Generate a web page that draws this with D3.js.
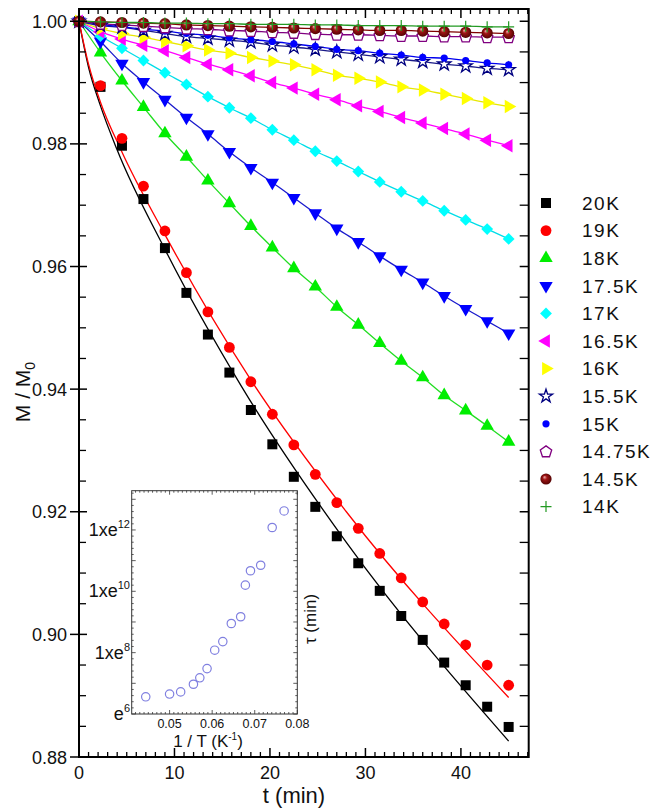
<!DOCTYPE html>
<html>
<head>
<meta charset="utf-8">
<script src="https://cdn.jsdelivr.net/npm/d3@7/dist/d3.min.js"></script>
<style>
  body { margin: 0; background: #fff; }
  svg { display: block; font-family: "Liberation Sans", Arial, sans-serif; }
</style>
</head>
<body>
<svg id="chart" width="654" height="808"></svg>
<script>
// relaxation data, M/M0 vs t (min)
const tMin = [0, 2.25, 4.5, 6.75, 9, 11.25, 13.5, 15.75, 18, 20.25, 22.5,
              24.75, 27, 29.25, 31.5, 33.75, 36, 38.25, 40.5, 42.75, 45];

const m20K   = [1, 0.9893, 0.9797, 0.9710, 0.9630, 0.9557, 0.9489, 0.9427, 0.9366, 0.9310, 0.9257, 0.9208, 0.9160, 0.9116, 0.9071, 0.9030, 0.8991, 0.8954, 0.8917, 0.8882, 0.8849];
const m19K   = [1, 0.9895, 0.9809, 0.9731, 0.9658, 0.9590, 0.9526, 0.9468, 0.9412, 0.9359, 0.9309, 0.9261, 0.9215, 0.9173, 0.9132, 0.9092, 0.9053, 0.9017, 0.8983, 0.8950, 0.8917];
const m18K   = [1, 0.9949, 0.9903, 0.9860, 0.9817, 0.9779, 0.9740, 0.9703, 0.9666, 0.9631, 0.9597, 0.9567, 0.9534, 0.9505, 0.9475, 0.9446, 0.9419, 0.9390, 0.9365, 0.9340, 0.9314];
const m17_5K = [1, 0.9967, 0.9931, 0.9901, 0.9872, 0.9843, 0.9816, 0.9787, 0.9761, 0.9737, 0.9712, 0.9687, 0.9662, 0.9640, 0.9617, 0.9595, 0.9574, 0.9552, 0.9531, 0.9511, 0.9491];
const m17K   = [1, 0.9976, 0.9956, 0.9936, 0.9916, 0.9897, 0.9877, 0.9859, 0.9842, 0.9823, 0.9806, 0.9788, 0.9772, 0.9755, 0.9738, 0.9722, 0.9707, 0.9691, 0.9676, 0.9661, 0.9645];
const m16_5K = [1, 0.9983, 0.9971, 0.9961, 0.9952, 0.9941, 0.9930, 0.9921, 0.9911, 0.9900, 0.9891, 0.9881, 0.9872, 0.9862, 0.9853, 0.9843, 0.9834, 0.9825, 0.9816, 0.9806, 0.9797];
const m16K   = [1, 0.9988, 0.9980, 0.9974, 0.9967, 0.9960, 0.9953, 0.9948, 0.9941, 0.9935, 0.9929, 0.9921, 0.9912, 0.9907, 0.9901, 0.9893, 0.9888, 0.9881, 0.9874, 0.9867, 0.9861];
const m15_5K = [1, 0.9993, 0.9990, 0.9985, 0.9980, 0.9975, 0.9972, 0.9969, 0.9966, 0.9961, 0.9958, 0.9954, 0.9950, 0.9946, 0.9942, 0.9938, 0.9934, 0.9930, 0.9927, 0.9923, 0.9921];
const m15K   = [1, 0.9995, 0.9991, 0.9987, 0.9984, 0.9980, 0.9977, 0.9973, 0.9970, 0.9967, 0.9963, 0.9959, 0.9954, 0.9952, 0.9948, 0.9945, 0.9941, 0.9940, 0.9936, 0.9932, 0.9929];
const m14_75K= [1, 0.9996, 0.9994, 0.9992, 0.9990, 0.9988, 0.9987, 0.9985, 0.9984, 0.9982, 0.9981, 0.9979, 0.9978, 0.9978, 0.9977, 0.9976, 0.9976, 0.9975, 0.9975, 0.9974, 0.9974];
const m14_5K = [1, 0.9999, 0.9998, 0.9997, 0.9996, 0.9994, 0.9993, 0.9992, 0.9991, 0.9990, 0.9989, 0.9988, 0.9987, 0.9986, 0.9985, 0.9985, 0.9984, 0.9983, 0.9982, 0.9981, 0.9980];
const m14K   = [1, 0.9999, 0.9998, 0.9998, 0.9997, 0.9997, 0.9996, 0.9996, 0.9995, 0.9995, 0.9995, 0.9994, 0.9994, 0.9993, 0.9993, 0.9993, 0.9992, 0.9992, 0.9992, 0.9991, 0.9991];

// fitted curves for the two fastest sets (they drift off the points)
const fitT20 = [0, 1, 2.25, 4, 9, 17, 28, 45];
const fit20K = [1, 0.9925, 0.9862, 0.9790, 0.9628, 0.9405, 0.9150, 0.8826];
const fitT19 = [0, 1, 2.25, 4.4, 9, 18, 28, 45];
const fit19K = [1, 0.9930, 0.9868, 0.9790, 0.9652, 0.9415, 0.9200, 0.8897];

const labels = ["20K", "19K", "18K", "17.5K", "17K", "16.5K", "16K", "15.5K", "15K", "14.75K", "14.5K", "14K"];
const values = [m20K, m19K, m18K, m17_5K, m17K, m16_5K, m16K, m15_5K, m15K, m14_75K, m14_5K, m14K];
const shapes = ["square", "circle", "triUp", "triDown", "diamond", "triLeft", "triRight", "star", "dot", "pentagon", "sphere", "plus"];
const colors = ["#000000", "#ff0000", "#00ee00", "#0000ff", "#00ffff", "#ff00ff", "#ffff00", "#000080", "#0000ff", "#800080", "#800000", "#229922"];
const lineColors = ["#000000", "#ff0000", "#22dd22", "#1a1acc", "#00dde8", "#ff00ff", "#e8e800", "#1a1a88", "#0000ee", "#800080", "#800000", "#229922"];

// inset: tau vs 1/T
const invT  = [0.0444, 0.0500, 0.0526, 0.0556, 0.0571, 0.0588, 0.0606, 0.0625, 0.0645, 0.0667, 0.0678, 0.0690, 0.0714, 0.0741, 0.0769];
const lnTau = [6.56, 6.65, 6.72, 6.97, 7.18, 7.48, 8.08, 8.36, 8.95, 9.17, 10.20, 10.67, 10.85, 12.08, 12.62];

const xTicks = [0, 10, 20, 30, 40];
const yTicks = [0.88, 0.90, 0.92, 0.94, 0.96, 0.98, 1.00];
const insetXTicks = [0.05, 0.06, 0.07, 0.08];
const insetYTicks = [6, 8, 10, 12];

const svg = d3.select("#chart");

const x = d3.scaleLinear().domain([0, 47.1]).range([79, 528.7]);
const y = d3.scaleLinear().domain([0.88, 1.002]).range([757, 9]);

const defs = svg.append("defs");
const grad = defs.append("radialGradient").attr("id", "sphere")
    .attr("cx", "50%").attr("cy", "50%").attr("r", "55%")
    .attr("fx", "35%").attr("fy", "32%");
grad.append("stop").attr("offset", "0%").attr("stop-color", "#f0b0b0");
grad.append("stop").attr("offset", "35%").attr("stop-color", "#a01515");
grad.append("stop").attr("offset", "100%").attr("stop-color", "#4a0000");

function pentagonPath(r) {
    let pts = d3.range(5).map(i => {
        let a = -Math.PI / 2 + i * 2 * Math.PI / 5;
        return [r * Math.cos(a), r * Math.sin(a)];
    });
    return "M" + pts.map(p => p.join(",")).join("L") + "Z";
}

// adds one marker of the given shape into g
function marker(g, shape, col, cx, cy) {
    let p;
    if (shape === "square") {
        p = g.append("path").attr("d", d3.symbol(d3.symbolSquare, 100)()).attr("fill", col);
        p.attr("transform", `translate(${cx},${cy})`);
    } else if (shape === "circle") {
        p = g.append("circle").attr("r", 5.4).attr("fill", col).attr("cx", cx).attr("cy", cy);
    } else if (shape.startsWith("tri")) {
        let rot = {triUp: 0, triDown: 180, triLeft: -90, triRight: 90}[shape];
        p = g.append("path").attr("d", d3.symbol(d3.symbolTriangle, 78)()).attr("fill", col)
            .attr("transform", `translate(${cx},${cy}) rotate(${rot})`);
    } else if (shape === "diamond") {
        p = g.append("path").attr("d", d3.symbol(d3.symbolSquare, 70)()).attr("fill", col)
            .attr("transform", `translate(${cx},${cy}) rotate(45)`);
    } else if (shape === "star") {
        p = g.append("path").attr("d", d3.symbol(d3.symbolStar, 55)()).attr("fill", "#fff")
            .attr("stroke", col).attr("stroke-width", 1.3)
            .attr("transform", `translate(${cx},${cy})`);
    } else if (shape === "dot") {
        p = g.append("circle").attr("r", 3.6).attr("fill", col).attr("cx", cx).attr("cy", cy);
    } else if (shape === "pentagon") {
        p = g.append("path").attr("d", pentagonPath(6)).attr("fill", "#fff")
            .attr("stroke", col).attr("stroke-width", 1.3)
            .attr("transform", `translate(${cx},${cy + 0.5})`);
    } else if (shape === "sphere") {
        p = g.append("circle").attr("r", 5.6).attr("fill", "url(#sphere)").attr("cx", cx).attr("cy", cy);
    } else if (shape === "plus") {
        p = g.append("path").attr("d", "M-5.5,0H5.5M0,-5.5V5.5").attr("stroke", col)
            .attr("stroke-width", 1.2).attr("fill", "none")
            .attr("transform", `translate(${cx},${cy})`);
    }
    return p;
}

// ---- lines
const line = d3.line().x(d => x(d[0])).y(d => y(d[1])).curve(d3.curveMonotoneX);
const plot = svg.append("g");

values.forEach((vals, i) => {
    let pts;
    if (i === 0) pts = fitT20.map((t, j) => [t, fit20K[j]]);
    else if (i === 1) pts = fitT19.map((t, j) => [t, fit19K[j]]);
    else pts = tMin.map((t, j) => [t, vals[j]]);
    plot.append("path").attr("d", line(pts)).attr("fill", "none")
        .attr("stroke", lineColors[i]).attr("stroke-width", 1.3);
});

// ---- markers
values.forEach((vals, i) => {
    let g = plot.append("g");
    vals.forEach((v, j) => marker(g, shapes[i], colors[i], x(tMin[j]), y(v)));
});

// ---- axes / frame
const ax = svg.append("g").attr("stroke", "#000").attr("fill", "none");
const x0 = x.range()[0], x1 = x.range()[1], yb = y.range()[0], yt = y.range()[1];

const xMinor = d3.range(1, 48).filter(d => d % 10 !== 0);
const yMinor = d3.range(0.885, 1.0021, 0.005).filter(d => Math.abs(Math.round(d * 50) - d * 50) > 0.01);

xTicks.forEach(d => {
    ax.append("line").attr("x1", x(d)).attr("x2", x(d)).attr("y1", yb).attr("y2", yb - 9).attr("stroke-width", 1.5);
    ax.append("line").attr("x1", x(d)).attr("x2", x(d)).attr("y1", yt).attr("y2", yt + 9).attr("stroke-width", 1.5);
});
xMinor.forEach(d => {
    ax.append("line").attr("x1", x(d)).attr("x2", x(d)).attr("y1", yb).attr("y2", yb - 5).attr("stroke-width", 1.3);
    ax.append("line").attr("x1", x(d)).attr("x2", x(d)).attr("y1", yt).attr("y2", yt + 5).attr("stroke-width", 1.3);
});
yTicks.forEach(d => {
    ax.append("line").attr("x1", x0 - 9).attr("x2", x0 + 8).attr("y1", y(d)).attr("y2", y(d)).attr("stroke-width", 1.5);
    ax.append("line").attr("x1", x1).attr("x2", x1 - 9).attr("y1", y(d)).attr("y2", y(d)).attr("stroke-width", 1.5);
});
yMinor.forEach(d => {
    ax.append("line").attr("x1", x0).attr("x2", x0 + 7).attr("y1", y(d)).attr("y2", y(d)).attr("stroke-width", 1.3);
    ax.append("line").attr("x1", x1).attr("x2", x1 - 9).attr("y1", y(d)).attr("y2", y(d)).attr("stroke-width", 1.3);
});
ax.append("rect").attr("x", x0).attr("y", yt).attr("width", x1 - x0).attr("height", yb - yt)
    .attr("stroke-width", 2);

const lab = svg.append("g").attr("fill", "#111").attr("font-size", 18);
xTicks.forEach(d => lab.append("text").attr("x", x(d)).attr("y", 779).attr("text-anchor", "middle").text(d));
yTicks.forEach(d => lab.append("text").attr("x", 67).attr("y", y(d) + 6.5).attr("text-anchor", "end").text(d3.format(".2f")(d)));

svg.append("text").attr("x", 294).attr("y", 803).attr("text-anchor", "middle")
    .attr("font-size", 22).attr("fill", "#111").text("t (min)");
const yt1 = svg.append("text").attr("transform", "translate(30,392) rotate(-90)")
    .attr("text-anchor", "middle").attr("font-size", 21).attr("fill", "#111");
yt1.append("tspan").text("M / M");
yt1.append("tspan").attr("font-size", 14).attr("dy", 5).text("0");

// ---- legend
const leg = svg.append("g");
labels.forEach((l, i) => {
    let cy = 203 + i * 27.6;
    marker(leg, shapes[i], colors[i], 546, cy);
    leg.append("text").attr("x", 582).attr("y", cy + 6.8).attr("font-size", 19)
        .attr("letter-spacing", 1.5).attr("fill", "#111").text(l);
});

// ---- inset
const ix = d3.scaleLinear().domain([0.0411, 0.08]).range([131.7, 297.3]);
const iy = d3.scaleLinear().domain([6, 13.28]).range([714, 490.7]);
const ins = svg.append("g");
const ix0 = ix.range()[0], ix1 = ix.range()[1], iyb = iy.range()[0], iyt = iy.range()[1];
ins.append("rect").attr("x", ix0).attr("y", iyt).attr("width", ix1 - ix0).attr("height", iyb - iyt)
    .attr("fill", "#fff");

const it = ins.append("g").attr("stroke", "#333").attr("stroke-width", 0.8);
d3.range(0.042, 0.0801, 0.001).forEach(d => {
    let major = Math.abs(d * 100 - Math.round(d * 100)) < 0.01;
    let len = major ? 4 : 2;
    it.append("line").attr("x1", ix(d)).attr("x2", ix(d)).attr("y1", iyb).attr("y2", iyb - len);
    it.append("line").attr("x1", ix(d)).attr("x2", ix(d)).attr("y1", iyt).attr("y2", iyt + len);
});
d3.range(6, 13.21, 0.2).forEach(d => {
    let major = Math.abs(d - Math.round(d)) < 0.01;
    let len = major ? 4 : 2;
    it.append("line").attr("x1", ix0).attr("x2", ix0 + len).attr("y1", iy(d)).attr("y2", iy(d));
    it.append("line").attr("x1", ix1).attr("x2", ix1 - len).attr("y1", iy(d)).attr("y2", iy(d));
});
ins.append("rect").attr("x", ix0).attr("y", iyt).attr("width", ix1 - ix0).attr("height", iyb - iyt)
    .attr("fill", "none").attr("stroke", "#333").attr("stroke-width", 1);

invT.forEach((v, i) => {
    ins.append("circle").attr("cx", ix(v)).attr("cy", iy(lnTau[i])).attr("r", 4.2)
        .attr("fill", "none").attr("stroke", "#8080e0").attr("stroke-width", 1.2);
});

insetXTicks.forEach(d => ins.append("text").attr("x", ix(d)).attr("y", 728)
    .attr("text-anchor", "middle").attr("font-size", 12.5).attr("fill", "#111").text(d3.format(".2f")(d)));
insetYTicks.forEach(d => {
    let t = ins.append("text").attr("x", 130).attr("y", iy(d) + 6).attr("text-anchor", "end")
        .attr("font-size", 18).attr("fill", "#111");
    t.append("tspan").text(d === 6 ? "e" : "1xe");
    t.append("tspan").attr("font-size", 11).attr("dy", -8).text(d);
});
const ixt = ins.append("text").attr("x", 208).attr("y", 747).attr("text-anchor", "middle")
    .attr("font-size", 17).attr("fill", "#111");
ixt.append("tspan").text("1 / T (K");
ixt.append("tspan").attr("font-size", 10).attr("dy", -7).text("-1");
ixt.append("tspan").attr("dy", 7).text(")");
ins.append("text").attr("transform", "translate(316,619) rotate(-90)").attr("text-anchor", "middle")
    .attr("font-size", 17).attr("fill", "#111").text("τ (min)");
</script>
</body>
</html>
